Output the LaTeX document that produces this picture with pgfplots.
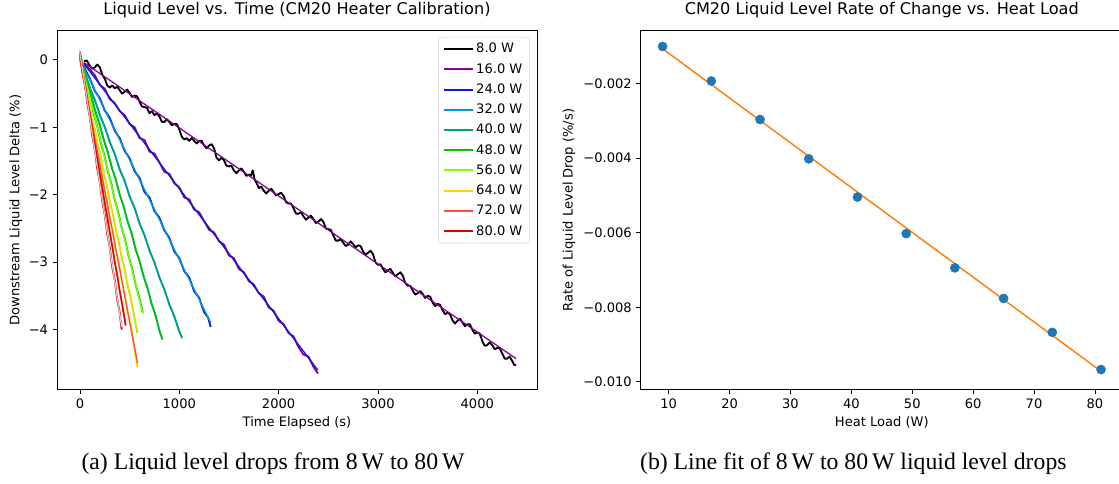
\documentclass[border=0pt]{standalone}
\usepackage{fontspec}
\setmainfont{DejaVu Sans}
\newfontfamily\capfont{Liberation Serif}
\usepackage{pgfplots}
\pgfplotsset{compat=1.18}
\definecolor{lvA}{rgb}{0,0,0}
\definecolor{lvB}{rgb}{0.533,0,0.6}
\definecolor{lvC}{rgb}{0.05,0.1,0.867}
\definecolor{lvD}{rgb}{0,0.6,0.85}
\definecolor{lvE}{rgb}{0,0.64,0.45}
\definecolor{lvF}{rgb}{0,0.78,0}
\definecolor{lvG}{rgb}{0.5,1,0}
\definecolor{lvH}{rgb}{1,0.84,0}
\definecolor{lvI}{rgb}{1,0.3,0.25}
\definecolor{lvJ}{rgb}{0.87,0,0}
\definecolor{lvK}{rgb}{0.8,0.8,0.8}
\definecolor{mC0}{HTML}{1F77B4}
\definecolor{mC1}{HTML}{FF7F0E}
\newcommand{\tfont}{\fontsize{9.8}{11.5}\selectfont}
\pgfplotsset{
  mpl/.style={
    scale only axis, anchor=south west,
    tick align=outside, major tick length=3.2pt,
    xtick pos=bottom, ytick pos=left,
    tick style={black, line width=0.6pt},
    axis line style={line width=0.7pt},
    tick label style={font=\tfont},
    label style={font=\tfont},
    title style={font=\fontsize{12.1}{14}\selectfont, at={(axis description cs:0.5,1)}, anchor=base, yshift=5.9pt},
    xlabel style={at={(axis description cs:0.5,0)}, anchor=base, yshift=-28.1pt},
    scaled y ticks=false, scaled x ticks=false,
  },
}
\tikzset{
  dl/.style={line width=1.4pt, line join=round},
  fl/.style={line width=0.95pt},
}
\begin{document}
\begin{tikzpicture}
\begin{axis}[mpl,
  at={(42.75pt,70.125pt)}, width=360pt, height=269.25pt,
  xmin=-231, xmax=4601, ymin=-4.888, ymax=0.4357,
  xtick={0,1000,2000,3000,4000}, xticklabels={0,1000,2000,3000,4000},
  ytick={-4,-3,-2,-1,0}, yticklabels={−4,−3,−2,−1,0},
  title={Liquid Level vs. Time (CM20 Heater Calibration)},
  xlabel={Time Elapsed (s)},
  ylabel={Downstream Liquid Level Delta (\%)},
  ylabel style={at={([xshift=-31pt]axis description cs:0,0.5)}, anchor=center},
  legend style={at={(0.9854,0.982)}, anchor=north east, font=\tfont, draw=black!15, rounded corners=2pt, row sep=2.4pt, inner xsep=3.5pt, inner ysep=2.5pt},
  legend cell align=left,
  legend image code/.code={\draw[line width=1.5pt, #1] (0pt,0pt) -- (21.3pt,0pt);},
]
\addlegendimage{color=lvA}\addlegendentry{8.0 W}
\addlegendimage{color=lvB}\addlegendentry{16.0 W}
\addlegendimage{color=lvC}\addlegendentry{24.0 W}
\addlegendimage{color=lvD}\addlegendentry{32.0 W}
\addlegendimage{color=lvE}\addlegendentry{40.0 W}
\addlegendimage{color=lvF}\addlegendentry{48.0 W}
\addlegendimage{color=lvG}\addlegendentry{56.0 W}
\addlegendimage{color=lvH}\addlegendentry{64.0 W}
\addlegendimage{color=lvI}\addlegendentry{72.0 W}
\addlegendimage{color=lvJ}\addlegendentry{80.0 W}
% 8 W
\addplot[dl, color=lvA, forget plot] table {
40 -0.02
70 -0.01
100 -0.09
125 -0.13
150 -0.11
175 -0.07
200 -0.11
225 -0.22
250 -0.28
275 -0.38
300 -0.41
325 -0.38
350 -0.42
375 -0.40
400 -0.45
425 -0.50
450 -0.47
475 -0.44
500 -0.49
525 -0.55
550 -0.53
575 -0.54
600 -0.62
625 -0.69
650 -0.70
675 -0.71
700 -0.79
725 -0.76
750 -0.82
775 -0.79
800 -0.84
825 -0.92
850 -0.92
875 -0.88
900 -0.92
925 -0.97
950 -0.95
975 -0.95
1000 -1.03
1025 -1.14
1050 -1.18
1075 -1.16
1100 -1.20
1125 -1.16
1150 -1.20
1175 -1.24
1200 -1.20
1225 -1.20
1250 -1.27
1275 -1.31
1300 -1.27
1325 -1.25
1350 -1.31
1375 -1.45
1400 -1.49
1425 -1.45
1450 -1.49
1475 -1.57
1500 -1.58
1525 -1.57
1550 -1.64
1575 -1.68
1600 -1.64
1625 -1.61
1650 -1.66
1675 -1.72
1700 -1.70
1720 -1.72
1740 -1.64
1760 -1.78
1780 -1.83
1800 -1.90
1825 -1.88
1850 -1.94
1875 -1.98
1900 -1.94
1925 -1.91
1950 -1.96
1975 -2.01
2000 -1.99
2025 -1.97
2050 -2.02
2075 -2.11
2100 -2.13
2125 -2.13
2150 -2.20
2175 -2.28
2200 -2.28
2225 -2.26
2250 -2.32
2275 -2.37
2300 -2.34
2325 -2.31
2350 -2.36
2375 -2.42
2400 -2.40
2425 -2.36
2450 -2.40
2475 -2.50
2500 -2.51
2525 -2.52
2550 -2.60
2575 -2.68
2600 -2.68
2625 -2.66
2650 -2.71
2675 -2.76
2700 -2.74
2725 -2.69
2750 -2.73
2775 -2.78
2800 -2.75
2825 -2.76
2850 -2.84
2875 -2.89
2900 -2.86
2925 -2.83
2950 -2.88
2975 -3.00
3000 -3.04
3025 -3.03
3050 -3.10
3075 -3.15
3100 -3.12
3125 -3.10
3150 -3.16
3175 -3.21
3200 -3.18
3225 -3.15
3250 -3.20
3275 -3.31
3300 -3.35
3325 -3.35
3350 -3.42
3375 -3.48
3400 -3.46
3425 -3.43
3450 -3.47
3475 -3.53
3500 -3.50
3525 -3.51
3550 -3.60
3575 -3.65
3600 -3.62
3625 -3.63
3650 -3.71
3675 -3.77
3700 -3.75
3725 -3.77
3750 -3.86
3775 -3.91
3800 -3.87
3825 -3.84
3850 -3.89
3875 -3.95
3900 -3.92
3925 -3.92
3950 -4.00
3975 -4.06
4000 -4.04
4025 -4.06
4050 -4.17
4075 -4.24
4100 -4.23
4125 -4.19
4150 -4.23
4175 -4.29
4200 -4.27
4225 -4.27
4250 -4.35
4275 -4.43
4300 -4.43
4325 -4.40
4350 -4.46
4370 -4.52
4390 -4.53
};
\addplot[fl, color=lvB, forget plot] coordinates {(40,-0.04) (4390,-4.43)};
% 16 W
\addplot[dl, color=lvB, forget plot] table {
40 -0.05
100 -0.14
150 -0.23
200 -0.37
250 -0.43
300 -0.58
350 -0.64
400 -0.76
450 -0.82
500 -0.95
550 -1.00
600 -1.16
650 -1.19
700 -1.36
750 -1.39
800 -1.52
850 -1.66
900 -1.69
950 -1.83
1000 -1.89
1050 -2.04
1100 -2.07
1150 -2.22
1200 -2.26
1250 -2.39
1300 -2.52
1350 -2.56
1400 -2.69
1450 -2.74
1500 -2.90
1550 -2.94
1600 -3.10
1650 -3.15
1700 -3.28
1750 -3.33
1800 -3.46
1850 -3.51
1900 -3.67
1950 -3.72
2000 -3.87
2050 -3.92
2100 -4.05
2150 -4.10
2200 -4.26
2250 -4.37
2300 -4.40
2350 -4.55
2395 -4.65
};
\addplot[fl, color=lvC, forget plot] coordinates {(40,-0.057) (2395,-4.60)};
% 24 W
\addplot[dl, color=lvC, forget plot] table {
0 0.02
50 -0.13
100 -0.28
150 -0.46
200 -0.57
250 -0.75
300 -0.86
350 -1.05
400 -1.16
450 -1.35
500 -1.46
550 -1.65
600 -1.75
650 -1.96
700 -2.04
750 -2.24
800 -2.34
850 -2.53
900 -2.64
950 -2.84
1000 -2.94
1050 -3.13
1100 -3.23
1150 -3.43
1200 -3.53
1250 -3.74
1290 -3.82
1316 -3.96
};
\addplot[fl, color=lvD, forget plot] coordinates {(0,0) (1316,-3.895)};
% 32 W
\addplot[dl, color=lvD, forget plot] table {
0 0.05
50 -0.18
100 -0.42
150 -0.59
200 -0.82
250 -0.99
300 -1.22
350 -1.39
400 -1.63
450 -1.79
500 -2.03
550 -2.19
600 -2.43
650 -2.60
700 -2.83
750 -3.00
800 -3.23
850 -3.40
900 -3.63
950 -3.80
1000 -4.03
1028 -4.12
};
\addplot[fl, color=lvE, forget plot] coordinates {(0,0) (1028,-4.13)};
% 40 W
\addplot[dl, color=lvE, forget plot] table {
0 0.08
40 -0.15
80 -0.39
120 -0.56
160 -0.79
200 -0.96
240 -1.19
280 -1.36
320 -1.60
360 -1.77
400 -2.00
440 -2.17
480 -2.40
520 -2.57
560 -2.81
600 -2.98
640 -3.21
680 -3.38
720 -3.61
760 -3.78
800 -4.02
830 -4.14
};
\addplot[fl, color=lvF, forget plot] coordinates {(0,0.03) (830,-4.15)};
% 48 W
\addplot[dl, color=lvF, forget plot] table {
0 0.10
35 -0.14
70 -0.39
105 -0.56
140 -0.81
175 -0.99
210 -1.23
245 -1.41
280 -1.65
315 -1.83
350 -2.07
385 -2.25
420 -2.49
455 -2.67
490 -2.91
525 -3.09
560 -3.33
595 -3.51
633 -3.75
};
\addplot[fl, color=lvG, forget plot] coordinates {(0,0.05) (633,-3.76)};
% 56 W
\addplot[dl, color=lvG, forget plot] table {
0 0.05
30 -0.19
60 -0.43
90 -0.61
120 -0.85
150 -1.03
180 -1.26
210 -1.44
240 -1.68
270 -1.86
300 -2.10
330 -2.27
360 -2.51
390 -2.69
420 -2.93
450 -3.11
480 -3.35
510 -3.52
540 -3.76
577 -4.05
};
\addplot[fl, color=lvH, forget plot] coordinates {(0,0) (577,-4.0)};
% 64 W
\addplot[dl, color=lvH, forget plot] table {
0 0.10
30 -0.21
60 -0.48
90 -0.68
120 -0.95
150 -1.14
180 -1.41
210 -1.61
240 -1.88
270 -2.07
300 -2.34
330 -2.54
360 -2.81
390 -3.00
420 -3.27
450 -3.47
480 -3.74
510 -3.93
540 -4.20
580 -4.56
};
\addplot[fl, color=lvI, forget plot] coordinates {(0,0) (580,-4.50)};
% 72 W
\addplot[dl, color=lvI, forget plot] table {
0 0.12
25 -0.19
50 -0.36
75 -0.58
100 -0.83
125 -1.02
150 -1.27
175 -1.45
200 -1.70
225 -1.88
250 -2.13
275 -2.31
300 -2.56
325 -2.75
350 -3.00
375 -3.18
400 -3.43
425 -3.61
460 -3.93
};
\addplot[fl, color=lvJ, forget plot] coordinates {(0,0.05) (460,-3.94)};
% 80 W
\addplot[dl, color=lvJ, forget plot] table {
0 0.12
25 -0.16
50 -0.36
75 -0.65
100 -0.85
125 -1.13
150 -1.33
175 -1.62
200 -1.81
225 -2.10
250 -2.30
275 -2.58
300 -2.78
325 -3.07
350 -3.26
375 -3.55
400 -3.75
420 -4.00
};
\addplot[fl, color=lvK, forget plot] coordinates {(-5,0.148) (420,-3.96)};
\end{axis}

\begin{axis}[mpl,
  at={(480.5pt,70.125pt)}, width=361.7pt, height=269.25pt,
  xmin=5.4, xmax=84.6, ymin=-0.010206, ymax=-0.000574,
  xtick={10,20,30,40,50,60,70,80},
  xticklabels={10,20,30,40,50,60,70,80},
  ytick={-0.010,-0.008,-0.006,-0.004,-0.002},
  yticklabels={−0.010,−0.008,−0.006,−0.004,−0.002},
  title={CM20 Liquid Level Rate of Change vs. Heat Load},
  xlabel={Heat Load (W)},
  ylabel={Rate of Liquid Level Drop (\%/s)},
  ylabel style={at={([xshift=-53.8pt]axis description cs:0,0.5)}, anchor=center},
]
\addplot[only marks, mark=*, mark size=3.4pt, color=mC0, mark options={draw=mC0, fill=mC0}] table {
9 -0.001002
17 -0.00193
25 -0.002963
33 -0.004017
41 -0.005042
49 -0.006024
57 -0.006942
65 -0.007763
73 -0.008673
81 -0.009671
};
\addplot[color=mC1, line width=1.1pt] coordinates {(9,-0.001064) (81,-0.009716)};
\end{axis}

\node[anchor=base, font=\capfont\fontsize{17.8}{20}\selectfont] at (204.75pt,10.5pt) {(a) Liquid level drops from 8\,W to 80\,W};
\node[anchor=base, font=\capfont\fontsize{17.8}{20}\selectfont] at (640pt,10.5pt) {(b) Line fit of 8\,W to 80\,W liquid level drops};
\pgfresetboundingbox
\path[use as bounding box] (0,0) rectangle (839.25pt,362.25pt);
\end{tikzpicture}
\end{document}
